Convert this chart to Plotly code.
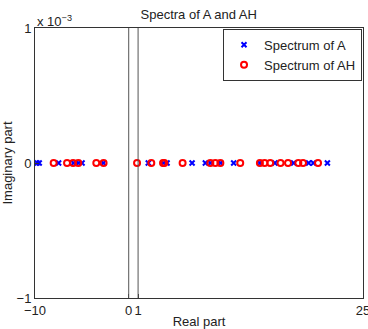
import plotly.graph_objects as go

# Eigenvalues (real parts); imaginary parts are zero
spec_A_re = [-9.79, -9.55, -7.48, -5.9, -5.38, -4.98, -2.7, 2.09, 3.7, 4.09, 6.76,
             8.18, 8.7, 9.8, 11.2, 14.0, 15.6, 17.6, 19.2, 19.7, 21.2]
spec_A_im = [0.0] * len(spec_A_re)
spec_AH_re = [-8.01, -6.58, -5.94, -5.38, -3.46, -2.68, 0.89, 2.41, 3.66, 3.8, 5.75,
              8.71, 9.24, 9.78, 11.9, 14.0, 14.5, 15.1, 16.2, 17.0, 18.1, 18.6, 20.2]
spec_AH_im = [0.0] * len(spec_AH_re)

x_tickvals = [-10, 0, 1, 25]
x_ticktext = ["\u221210", "0", "1", "25"]
y_tickvals = [-1e-3, 0, 1e-3]
y_ticktext = ["\u22121", "0", "1"]
vlines = [0, 1]

font = dict(family="Liberation Sans, Arial, sans-serif", size=13, color="#222")

fig = go.Figure()
for v in vlines:
    fig.add_shape(type="line", x0=v, x1=v, y0=0, y1=1, xref="x", yref="paper",
                  line=dict(color="#555", width=1))

fig.add_trace(go.Scatter(x=spec_A_re, y=spec_A_im, mode="markers", name="Spectrum of A",
                         marker=dict(symbol="x-thin", size=5, color="blue",
                                     line=dict(color="blue", width=2))))
fig.add_trace(go.Scatter(x=spec_AH_re, y=spec_AH_im, mode="markers", name="Spectrum of AH",
                         marker=dict(symbol="circle-open", size=6, color="red",
                                     line=dict(color="red", width=2))))

axis_common = dict(showline=True, linecolor="#333", linewidth=1, mirror=True,
                   ticks="inside", ticklen=4, tickcolor="#333", showgrid=False,
                   zeroline=False, tickfont=font, automargin=False,
                   ticklabeloverflow="allow")
fig.update_xaxes(range=[-10, 25], tickvals=x_tickvals, ticktext=x_ticktext, tickangle=0,
                 ticklabelstandoff=0,
                 title=dict(text="Real part", font=font, standoff=0), **axis_common)
fig.update_yaxes(range=[-1e-3, 1e-3], tickvals=y_tickvals, ticktext=y_ticktext,
                 ticklabelstandoff=0,
                 title=dict(text="Imaginary part", font=font, standoff=4), **axis_common)

fig.add_annotation(text="x 10<sup>\u22123</sup>", xref="paper", yref="paper", x=0, y=1,
                   xanchor="left", yanchor="bottom", showarrow=False, font=font, yshift=-3)

fig.update_layout(
    width=368, height=329,
    margin=dict(l=35, r=5, t=28, b=31),
    paper_bgcolor="white", plot_bgcolor="white",
    title=dict(text="Spectra of A and AH", font=font, x=0.54, xanchor="center",
               y=0.955, yanchor="middle"),
    showlegend=True,
    legend=dict(x=0.997, y=0.997, xanchor="right", yanchor="top", bgcolor="white",
                bordercolor="#333", borderwidth=1, font=font, tracegroupgap=0,
                itemwidth=30),
)

fig.write_html("out.html")
